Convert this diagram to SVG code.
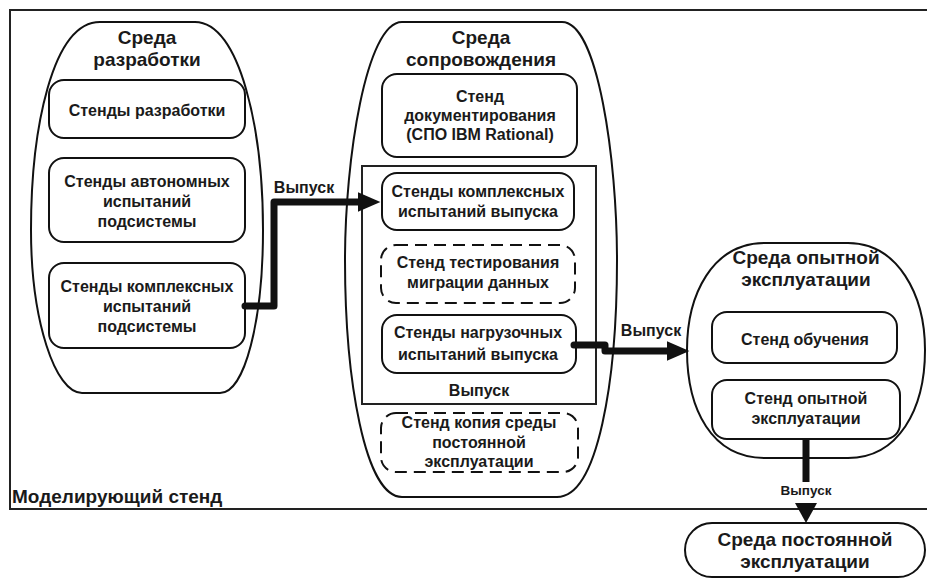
<svg xmlns="http://www.w3.org/2000/svg" width="927" height="580" viewBox="0 0 927 580">
<defs>
<style>
text{font-family:"Liberation Sans",Arial,sans-serif;font-weight:bold;fill:#1a1a1a;text-anchor:middle}
.env{fill:#fff;stroke:#111;stroke-width:2}
.box{fill:#fff;stroke:#111;stroke-width:2}
.dash{fill:#fff;stroke:#111;stroke-width:2;stroke-dasharray:12 7}
.t{font-size:16px}
.h{font-size:19px}
.c{fill:none;stroke:#111;stroke-width:7;stroke-linejoin:round;stroke-linecap:round}
.lbl{font-size:16px}
</style>
<marker id="ah" markerWidth="4" markerHeight="4" refX="0" refY="2" orient="auto" markerUnits="strokeWidth">
<path d="M0,0.6 L3.2,2 L0,3.4 Z" fill="#111"/>
</marker>
</defs>
<rect id="model" x="10" y="10" width="930" height="499" fill="#fff" stroke="#222" stroke-width="2"/>
<text x="12" y="503" style="font-size:19px;text-anchor:start">Моделирующий стенд</text>

<g id="env-dev">
<path class="env" d="M100,22 L195,22 C240,22 263,130 263,230 C263,320 245,393 220,393 L82,393 C55,393 31,320 31,230 C31,130 52,22 100,22 Z"/>
<text class="h" x="147" y="44">Среда</text>
<text class="h" x="147" y="66">разработки</text>
</g>
<g id="n-dev">
<rect class="box" x="49" y="80" width="196" height="58" rx="15"/>
<text class="t" x="147" y="116">Стенды разработки</text>
</g>
<g id="n-auto">
<rect class="box" x="49" y="158" width="196" height="84" rx="15"/>
<text class="t" x="147" y="187">Стенды автономных</text>
<text class="t" x="147" y="207">испытаний</text>
<text class="t" x="147" y="227">подсистемы</text>
</g>
<g id="n-compl-sub">
<rect class="box" x="49" y="263" width="196" height="85" rx="15"/>
<text class="t" x="147" y="292">Стенды комплексных</text>
<text class="t" x="147" y="312">испытаний</text>
<text class="t" x="147" y="332">подсистемы</text>
</g>

<g id="env-support">
<path class="env" d="M402,22 L562,22 C598,22 617,160 617,260 C617,380 598,497 557,497 L402,497 C365,497 345,380 345,260 C345,160 366,22 402,22 Z"/>
<text class="h" x="481" y="44">Среда</text>
<text class="h" x="481" y="66">сопровождения</text>
</g>
<g id="n-doc">
<rect class="box" x="382" y="74" width="195" height="83" rx="15"/>
<text class="t" x="480" y="102">Стенд</text>
<text class="t" x="480" y="121">документирования</text>
<text class="t" x="480" y="140">(СПО IBM Rational)</text>
</g>
<g id="release">
<rect x="362" y="166" width="234" height="238" fill="none" stroke="#222" stroke-width="2"/>
<text class="lbl" x="479" y="396">Выпуск</text>
</g>
<g id="n-compl-rel">
<rect class="box" x="382" y="173" width="192" height="57" rx="15"/>
<text class="t" x="478" y="197">Стенды комплексных</text>
<text class="t" x="478" y="217">испытаний выпуска</text>
</g>
<g id="n-migr">
<rect class="dash" x="381" y="245" width="194" height="58" rx="15"/>
<text class="t" x="478" y="268">Стенд тестирования</text>
<text class="t" x="478" y="288">миграции данных</text>
</g>
<g id="n-load">
<rect class="box" x="382" y="315" width="194" height="58" rx="15"/>
<text class="t" x="478" y="338">Стенды нагрузочных</text>
<text class="t" x="478" y="360">испытаний выпуска</text>
</g>
<g id="n-copy">
<rect class="dash" x="381" y="413" width="197" height="59" rx="15"/>
<text class="t" x="479" y="428">Стенд копия среды</text>
<text class="t" x="479" y="448">постоянной</text>
<text class="t" x="479" y="467">эксплуатации</text>
</g>

<g id="env-pilot">
<path class="env" d="M765,243 L848,243 C898,243 925,295 925,350 C925,410 898,458 848,458 L765,458 C712,458 687,410 687,350 C687,295 712,243 765,243 Z"/>
<text class="h" x="806" y="264">Среда опытной</text>
<text class="h" x="806" y="286">эксплуатации</text>
</g>
<g id="n-train">
<rect class="box" x="712" y="312" width="185" height="51" rx="15"/>
<text class="t" x="805" y="345">Стенд обучения</text>
</g>
<g id="n-pilot">
<rect class="box" x="712" y="380" width="188" height="59" rx="15"/>
<text class="t" x="806" y="404">Стенд опытной</text>
<text class="t" x="806" y="424">эксплуатации</text>
</g>

<g id="n-prod">
<rect class="box" x="685" y="523" width="240" height="54" rx="27"/>
<text class="h" x="805" y="546">Среда постоянной</text>
<text class="h" x="805" y="568">эксплуатации</text>
</g>

<g id="connectors">
<path class="c" d="M245,306 L274,306 L274,202 L358,202" marker-end="url(#ah)"/>
<text class="lbl" x="304" y="193">Выпуск</text>
<path class="c" d="M574,345 L605,345 L605,351 L667,351" marker-end="url(#ah)"/>
<text class="lbl" x="651" y="336">Выпуск</text>
<line class="c" x1="806" y1="438" x2="806" y2="482" style="stroke-linecap:butt"/>
<text x="806" y="495" style="font-size:13.5px">Выпуск</text>
<path d="M795,503 L817,503 L806,523 Z" fill="#111"/>
</g>
</svg>
